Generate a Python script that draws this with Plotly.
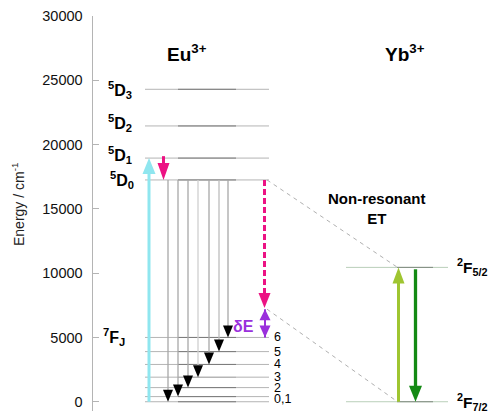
import plotly.graph_objects as go

# ---------------- data ----------------
eu_upper_labels = ["<sup>5</sup>D<sub>0</sub>", "<sup>5</sup>D<sub>1</sub>",
                   "<sup>5</sup>D<sub>2</sub>", "<sup>5</sup>D<sub>3</sub>"]
eu_upper_energy = [17250, 18950, 21450, 24300]
eu_lower_J = ["0", "1", "2", "3", "4", "5", "6"]
eu_lower_energy = [0, 400, 1100, 1900, 2900, 3900, 5000]
eu_lower_tick_labels = ["0,1", "2", "3", "4", "5", "6"]
yb_labels = ["<sup>2</sup>F<sub>7/2</sub>", "<sup>2</sup>F<sub>5/2</sub>"]
yb_energy = [0, 10450]
nonres_tip = 7300      # end of the dashed non-radiative decay
delta_e_top = 7200     # top of the δE mismatch
y_ticks = [0, 5000, 10000, 15000, 20000, 25000, 30000]

# ---------------- layout constants ----------------
OFF = 0                      # page body margin (set to 0 by post_script)
W, H = 490 - OFF, 412 - OFF
M_T, M_B = 16 - OFF, 1
Y_MIN, Y_MAX = -720, 30000
E_PER_PX = (Y_MAX - Y_MIN) / (H - M_T - M_B)
FONT = "Arial, Liberation Sans, sans-serif"

AXIS_X = 91.5
EU_X0, EU_X1, EU_DARK0, EU_DARK1 = 145, 269, 178, 236
YB_X0, YB_X1, YB_DARK0, YB_DARK1 = 346, 448, 397, 433
DECAY_X = [168, 178, 188, 198, 209, 219, 228]
CYAN_X, PINK_X, NR_X = 149, 163.5, 264.5
YB_UP_X, YB_DN_X = 398.5, 415.5

fig = go.Figure()
shapes = []
annotations = []


def seg(x0, x1, e0, e1, color, width, dash=None):
    fig.add_trace(go.Scatter(x=[x0, x1], y=[e0, e1], mode="lines",
                             line=dict(color=color, width=width, dash=dash),
                             hoverinfo="skip", showlegend=False))


def head(x, e_tip, up, color, w, h):
    s = -1 if up else 1
    path = f"M{-w/2},{s*h} L{w/2},{s*h} L0,0 Z"
    shapes.append(dict(type="path", xref="x", yref="y", xsizemode="pixel",
                       ysizemode="pixel", xanchor=x, yanchor=e_tip, path=path,
                       fillcolor=color, line=dict(width=0), layer="above"))


def arrow(x, e_from, e_tip, color, width, w, h, dash=None, head_color=None):
    up = e_tip > e_from
    e_end = e_tip - (h * 0.6 * E_PER_PX if up else -h * 0.6 * E_PER_PX)
    seg(x, x, e_from, e_end, color, width, dash)
    head(x, e_tip, up, head_color or color, w, h)


# ---- Eu levels ----
lower_colors = ["#b4b4b4", "#b4b4b4", "#b4b4b4", "#cccccc", "#b4b4b4", "#b4b4b4", "#b4b4b4"]
for e in eu_upper_energy:
    seg(EU_X0, EU_X1, e, e, "#b4b4b4", 1)
    seg(EU_DARK0, EU_DARK1, e, e, "#7a7a7a", 1)
for e, c in zip(eu_lower_energy, lower_colors):
    seg(EU_X0, EU_X1, e, e, c, 1.5 if c == "#cccccc" else 1)
    seg(EU_DARK0, EU_DARK1, e, e, "#7a7a7a" if c != "#cccccc" else "#b0b0b0", 1)

# ---- Yb levels ----
for e in yb_energy:
    seg(YB_X0, YB_X1, e, e, "#b9cfb9", 1)
    seg(YB_DARK0, YB_DARK1, e, e, "#7f8a7f", 1)

# ---- gray connectors (dashed) ----
seg(EU_X1 - 2, YB_UP_X - 1, eu_upper_energy[0], yb_energy[1], "#b0b0b0", 1, "4px,4px")
seg(EU_X1 - 2, YB_UP_X - 1, delta_e_top, yb_energy[0], "#b0b0b0", 1, "4px,4px")

# ---- radiative decays 5D0 -> 7FJ ----
decay_colors = ["#a8a8a8", "#a8a8a8", "#a8a8a8", "#cfcfcf", "#a8a8a8", "#bdbdbd", "#a8a8a8"]
for xi, e, c in zip(DECAY_X, eu_lower_energy, decay_colors):
    arrow(xi, eu_upper_energy[0], e, c, 1.3, 10, 12, head_color="#000000")

# ---- excitation (cyan) ----
arrow(CYAN_X, eu_lower_energy[0], eu_upper_energy[1], "#8fe6ef", 3, 13, 16)
# ---- 5D1 -> 5D0 relaxation (pink) ----
arrow(PINK_X, eu_upper_energy[1] + 150, eu_upper_energy[0], "#ec1283", 3, 12, 17)
# ---- non-resonant decay (pink dashed) ----
arrow(NR_X, eu_upper_energy[0], nonres_tip, "#ec1283", 3, 12, 15, dash="6px,3px")
# ---- δE (purple double arrow) ----
seg(NR_X + 0.5, NR_X + 0.5, delta_e_top, eu_lower_energy[6], "#9a30dc", 2)
head(NR_X + 0.5, delta_e_top, True, "#9a30dc", 11, 11)
head(NR_X + 0.5, eu_lower_energy[6], False, "#9a30dc", 11, 12)

# ---- Yb arrows ----
arrow(YB_UP_X, yb_energy[0], yb_energy[1], "#9fc531", 3, 12, 16)
arrow(YB_DN_X, yb_energy[1] - 150, yb_energy[0], "#148a14", 3.3, 13, 16)

# ---------------- text ----------------
def text(x, y, t, size, bold=False, color="#000000", xanchor="center",
         yshift=0, angle=0):
    annotations.append(dict(x=x, y=y, xref="x", yref="y",
                            text=f"<b>{t}</b>" if bold else t,
                            showarrow=False, xanchor=xanchor, yanchor="middle",
                            yshift=yshift, textangle=angle, borderpad=0,
                            font=dict(family=FONT, size=size, color=color)))


text(187, 27150, "Eu<sup>3+</sup>", 19, bold=True)
text(405, 27150, "Yb<sup>3+</sup>", 19, bold=True)
text(377, 15050, "Non-resonant<br>ET", 15, bold=True)

upper_x = [109, 107, 107, 107]
upper_shift = [0, 3, 3, -1]
for lab, e, xx, ys in zip(eu_upper_labels, eu_upper_energy, upper_x, upper_shift):
    text(xx, e, lab, 16, bold=True, xanchor="left", yshift=ys)
text(102, eu_lower_energy[6], "<sup>7</sup>F<sub>J</sub>", 16, bold=True,
     xanchor="left")

label_energy = [(eu_lower_energy[0] + eu_lower_energy[1]) / 2] + eu_lower_energy[2:]
for lab, e in zip(eu_lower_tick_labels, label_energy):
    text(273, e, lab, 12.5, xanchor="left")

for lab, e in zip(yb_labels, yb_energy):
    text(456, e, lab, 15.5, bold=True, xanchor="left")

text(255, 5830, "δE", 16, bold=True, color="#9a30dc", xanchor="right")
text(18, 15300, "Energy / cm<sup>-1</sup>", 14, color="#222222", angle=-90)

fig.update_layout(
    width=W, height=H,
    margin=dict(l=0, r=0, t=M_T, b=M_B, pad=0),
    paper_bgcolor="white", plot_bgcolor="white",
    showlegend=False,
    shapes=shapes, annotations=annotations,
    xaxis=dict(range=[OFF, OFF + W], visible=False, fixedrange=True),
    yaxis=dict(range=[Y_MIN, Y_MAX], anchor="free",
               position=(AXIS_X - OFF) / W,
               tickvals=y_ticks, ticktext=[str(v) for v in y_ticks],
               ticks="inside", ticklen=6, tickcolor="#b4b4b4",
               showline=True, linecolor="#b4b4b4", linewidth=1,
               showgrid=False, zeroline=False, ticklabelstandoff=6,
               tickfont=dict(family=FONT, size=14.5, color="#111111")),
)

fig.write_html("out.html",
               config={"displayModeBar": False},
               post_script="document.body.style.margin='0';"
                           "document.body.style.overflow='hidden';")
